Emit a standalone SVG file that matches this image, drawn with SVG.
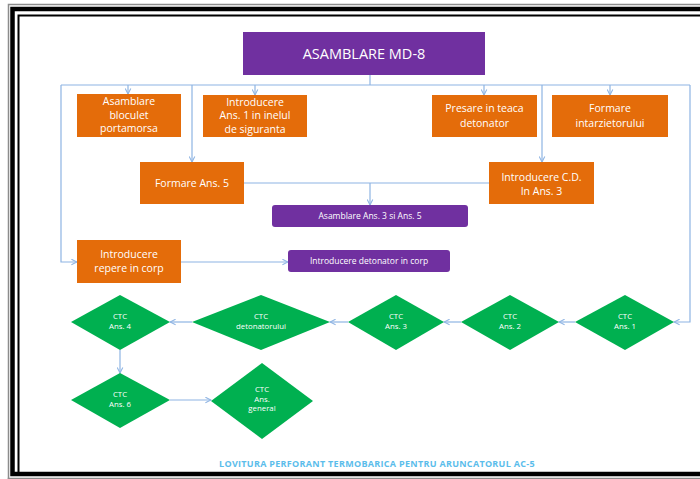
<svg xmlns="http://www.w3.org/2000/svg" width="700" height="479" viewBox="0 0 700 479">
<style>
.frame-g{fill:none;stroke:#8c8c8c;stroke-width:1.5}
.frame-k{fill:none;stroke:#000}
.box{fill:#E46C0A}
.pbox{fill:#7030A0}
.dia{fill:#00B050}
.t{font-family:"Open Sans","Liberation Sans",sans-serif;fill:#fff;text-anchor:middle}
.tb{font-size:10.5px}
.ts{font-size:8.5px}
.td{font-size:7.8px}
.conn{fill:none;stroke:#8EB4E3;stroke-width:1.2}
</style>
<defs>
<marker id="arr" viewBox="0 0 10 10" refX="9" refY="5" markerWidth="7" markerHeight="7" orient="auto" markerUnits="userSpaceOnUse">
<path d="M1,1 L9,5 L1,9" fill="none" stroke="#8EB4E3" stroke-width="1.5"/>
</marker>
</defs>
<rect width="700" height="479" fill="#fff"/>
<g id="frame">
<rect class="frame-g" x="8.5" y="4.5" width="720" height="500"/>
<rect class="frame-k" x="12.5" y="9" width="720" height="465" stroke-width="4.5"/>
<rect class="frame-k" x="18.5" y="15.5" width="720" height="458" stroke-width="2"/>
<rect class="frame-g" x="8.5" y="478.5" width="720" height="20"/>
</g>
<g id="connectors">
<path class="conn" d="M370,75 V85"/>
<path class="conn" d="M61,85 H690"/>
<path class="conn" d="M128,85 V94" marker-end="url(#arr)"/>
<path class="conn" d="M255,85 V95" marker-end="url(#arr)"/>
<path class="conn" d="M484,85 V95" marker-end="url(#arr)"/>
<path class="conn" d="M610,85 V95" marker-end="url(#arr)"/>
<path class="conn" d="M192,85 V162" marker-end="url(#arr)"/>
<path class="conn" d="M542,85 V162" marker-end="url(#arr)"/>
<path class="conn" d="M61,85 V262 H77" marker-end="url(#arr)"/>
<path class="conn" d="M244,183 H489"/>
<path class="conn" d="M370,183 V205" marker-end="url(#arr)"/>
<path class="conn" d="M181,262 H288" marker-end="url(#arr)"/>
<path class="conn" d="M690,85 V322 H674" marker-end="url(#arr)"/>
<path class="conn" d="M575,322 H559" marker-end="url(#arr)"/>
<path class="conn" d="M461,322 H444" marker-end="url(#arr)"/>
<path class="conn" d="M348,322 H330" marker-end="url(#arr)"/>
<path class="conn" d="M192,322 H170" marker-end="url(#arr)"/>
<path class="conn" d="M120,350 V373" marker-end="url(#arr)"/>
<path class="conn" d="M170,400 H211" marker-end="url(#arr)"/>
</g>
<g id="title">
<rect class="pbox" x="243" y="32" width="242" height="43"/>
<text class="t" x="364" y="58.5" font-size="14.5">ASAMBLARE MD-8</text>
</g>
<g id="n-asamblare-bloculet">
<rect class="box" x="77" y="94" width="104" height="43"/>
<text class="t tb" x="129" y="105">Asamblare<tspan x="129" dy="13.5">bloculet</tspan><tspan x="129" dy="13.5">portamorsa</tspan></text>
</g>
<g id="n-introducere-ans1">
<rect class="box" x="203" y="95" width="104" height="42"/>
<text class="t tb" x="255" y="105.5">Introducere<tspan x="255" dy="13.5">Ans. 1 in inelul</tspan><tspan x="255" dy="13.5">de siguranta</tspan></text>
</g>
<g id="n-presare">
<rect class="box" x="432" y="95" width="105" height="42"/>
<text class="t tb" x="484.5" y="112">Presare in teaca<tspan x="484.5" dy="15">detonator</tspan></text>
</g>
<g id="n-formare-intarzietor">
<rect class="box" x="552" y="95" width="116" height="42"/>
<text class="t tb" x="610" y="112">Formare<tspan x="610" dy="15">intarzietorului</tspan></text>
</g>
<g id="n-formare-ans5">
<rect class="box" x="140" y="162" width="104" height="42"/>
<text class="t tb" x="192" y="186.5">Formare  Ans. 5</text>
</g>
<g id="n-introducere-cd">
<rect class="box" x="489" y="162" width="105" height="42"/>
<text class="t tb" x="541.5" y="180.5">Introducere  C.D.<tspan x="541.5" dy="14">In Ans. 3</tspan></text>
</g>
<g id="n-asamblare-ans3-5">
<rect class="pbox" x="272" y="205" width="196" height="22" rx="3"/>
<text class="t ts" x="370" y="219">Asamblare Ans. 3 si Ans. 5</text>
</g>
<g id="n-introducere-repere">
<rect class="box" x="77" y="240" width="104" height="43"/>
<text class="t tb" x="129" y="257.5">Introducere<tspan x="129" dy="14.5">repere in corp</tspan></text>
</g>
<g id="n-introducere-detonator">
<rect class="pbox" x="288" y="250" width="162" height="22" rx="3"/>
<text class="t ts" x="369" y="264">Introducere detonator in corp</text>
</g>
<g id="n-ctc-ans1">
<polygon class="dia" points="625,295 674,322 625,350 575,322"/>
<text class="t td" x="625" y="319">CTC<tspan x="625" dy="9.5">Ans. 1</tspan></text>
</g>
<g id="n-ctc-ans2">
<polygon class="dia" points="510,295 559,322 510,350 461,322"/>
<text class="t td" x="510" y="319">CTC<tspan x="510" dy="9.5">Ans. 2</tspan></text>
</g>
<g id="n-ctc-ans3">
<polygon class="dia" points="396,295 444,322 396,350 348,322"/>
<text class="t td" x="396" y="319">CTC<tspan x="396" dy="9.5">Ans. 3</tspan></text>
</g>
<g id="n-ctc-detonator">
<polygon class="dia" points="261,295 330,322 261,350 192,322"/>
<text class="t td" x="261" y="319">CTC<tspan x="261" dy="9.5">detonatorului</tspan></text>
</g>
<g id="n-ctc-ans4">
<polygon class="dia" points="120,295 170,322 120,350 71,322"/>
<text class="t td" x="120" y="319">CTC<tspan x="120" dy="9.5">Ans. 4</tspan></text>
</g>
<g id="n-ctc-ans6">
<polygon class="dia" points="120,373 170,400 120,428 71,400"/>
<text class="t td" x="120" y="397">CTC<tspan x="120" dy="9.5">Ans. 6</tspan></text>
</g>
<g id="n-ctc-general">
<polygon class="dia" points="262,363 313,401 262,439 211,401"/>
<text class="t td" x="262" y="392">CTC<tspan x="262" dy="9.5">Ans.</tspan><tspan x="262" dy="9.5">general</tspan></text>
</g>
<text x="377" y="467" font-family="Open Sans,Liberation Sans,sans-serif" font-size="9" font-weight="bold" letter-spacing="0.3" fill="#5BBDEB" text-anchor="middle">LOVITURA PERFORANT TERMOBARICA PENTRU ARUNCATORUL AC-5</text>
</svg>
